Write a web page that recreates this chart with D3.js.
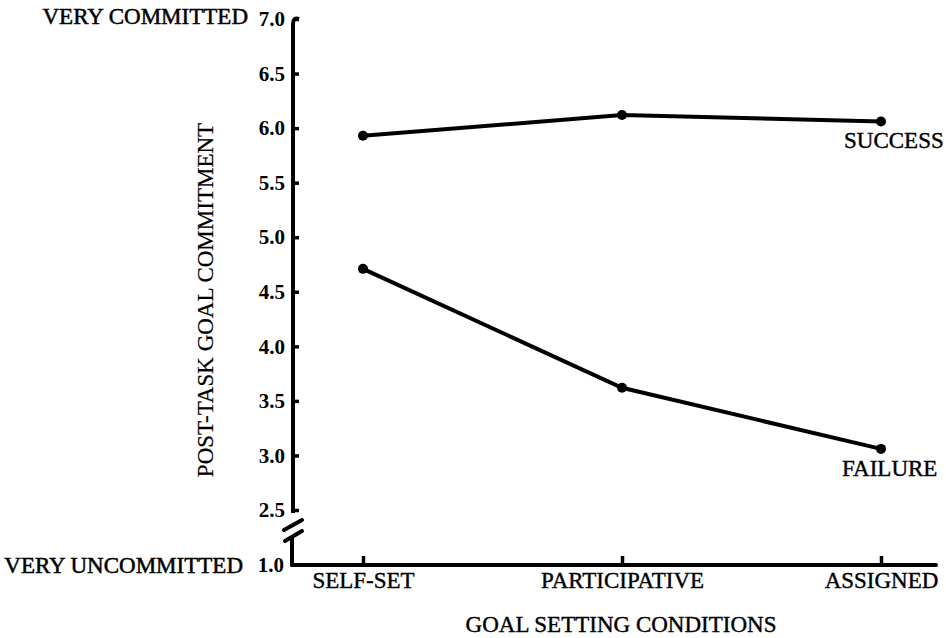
<!DOCTYPE html>
<html><head><meta charset="utf-8">
<script src="https://cdn.jsdelivr.net/npm/d3@7"></script>
<style>body{margin:0;background:#fff}svg{display:block}text{font-family:"Liberation Serif","DejaVu Serif",serif;fill:#000}</style>
</head><body>
<svg id="c" width="946" height="638"></svg>
<script>
const categories = ["SELF-SET", "PARTICIPATIVE", "ASSIGNED"];
const successValues = [5.93, 6.12, 6.06];
const failureValues = [4.71, 3.62, 3.06];
const yTickValues = [2.5, 3.0, 3.5, 4.0, 4.5, 5.0, 5.5, 6.0, 6.5, 7.0];
const yTickLabels = ["2.5","3.0","3.5","4.0","4.5","5.0","5.5","6.0","6.5","7.0"];
const seriesNames = ["SUCCESS", "FAILURE"];

const svg = d3.select("#c");
const axisX = 293, baseY = 565;
const y = d3.scaleLinear().domain([1.0, 2.5, 7.0]).range([baseY, 510, 19]);
const x = d3.scalePoint().domain(categories).range([363, 881]);
const FS = 23;

// y axis ticks
const yAx = svg.append("g").attr("transform", `translate(${axisX},0)`)
  .call(d3.axisLeft(y).tickValues(yTickValues).tickFormat((d,i)=>yTickLabels[i]).tickSizeInner(-6).tickSizeOuter(0).tickPadding(8));
yAx.select(".domain").remove();
yAx.selectAll(".tick line").attr("stroke","#000").attr("stroke-width",3.5);
yAx.selectAll(".tick text").attr("font-size",21).attr("font-weight","bold").attr("font-family","Liberation Serif").attr("fill","#000");

// 1.0 label at baseline
svg.append("text").attr("x", axisX - 9).attr("y", y(1.0)).attr("dy","0.32em")
  .attr("text-anchor","end").attr("font-size",21).attr("font-weight","bold").text("1.0");

// y axis line with break
const ln = (x1,y1,x2,y2,w)=>svg.append("line").attr("x1",x1).attr("y1",y1).attr("x2",x2).attr("y2",y2)
  .attr("stroke","#000").attr("stroke-width",w).attr("stroke-linecap","round");
svg.append("path").attr("d",`M${axisX+6},19 Q${axisX},17 ${axisX},24 L${axisX},513`)
  .attr("fill","none").attr("stroke","#000").attr("stroke-width",4);
ln(284,530,302,520,4);
ln(285,541,302,531,4);
ln(axisX-1,538,axisX-1,baseY,4);

// x axis
const xAx = svg.append("g").attr("transform",`translate(0,${baseY})`)
  .call(d3.axisBottom(x).tickSizeInner(-9).tickSizeOuter(0).tickPadding(7));
xAx.select(".domain").remove();
xAx.selectAll(".tick line").attr("stroke","#000").attr("stroke-width",3.5);
xAx.selectAll(".tick text").attr("font-size",FS).attr("font-family","Liberation Serif").attr("fill","#000")
  .attr("stroke","#000").attr("stroke-width",0.4);
ln(axisX-1, baseY, 936, baseY, 4);

// lines
const line = d3.line().x((d,i)=>x(categories[i])).y(d=>y(d));
[successValues, failureValues].forEach(vals=>{
  svg.append("path").datum(vals).attr("d",line).attr("fill","none").attr("stroke","#000").attr("stroke-width",4);
  svg.selectAll(null).data(vals).enter().append("circle")
    .attr("cx",(d,i)=>x(categories[i])).attr("cy",d=>y(d)).attr("r",5).attr("fill","#000");
});

// series labels
const lbl = (t,xx,yy)=>svg.append("text").attr("x",xx).attr("y",yy).attr("font-size",FS)
  .attr("stroke","#000").attr("stroke-width",0.4).text(t);
lbl(seriesNames[0], 844, 148);
lbl(seriesNames[1], 842, 476);

// endpoint labels
svg.append("text").attr("x",248).attr("y",24).attr("text-anchor","end").attr("font-size",FS)
  .attr("stroke","#000").attr("stroke-width",0.5).text("VERY COMMITTED");
svg.append("text").attr("x",243).attr("y",573).attr("text-anchor","end").attr("font-size",FS)
  .attr("stroke","#000").attr("stroke-width",0.5).text("VERY UNCOMMITTED");

// axis titles
svg.append("text").attr("transform","translate(213,300) rotate(-90)").attr("text-anchor","middle")
  .attr("font-size",FS).attr("stroke","#000").attr("stroke-width",0.2).text("POST-TASK GOAL COMMITMENT");
svg.append("text").attr("x",621).attr("y",632).attr("text-anchor","middle").attr("font-size",FS)
  .attr("stroke","#000").attr("stroke-width",0.4).text("GOAL SETTING CONDITIONS");
</script>
</body></html>
